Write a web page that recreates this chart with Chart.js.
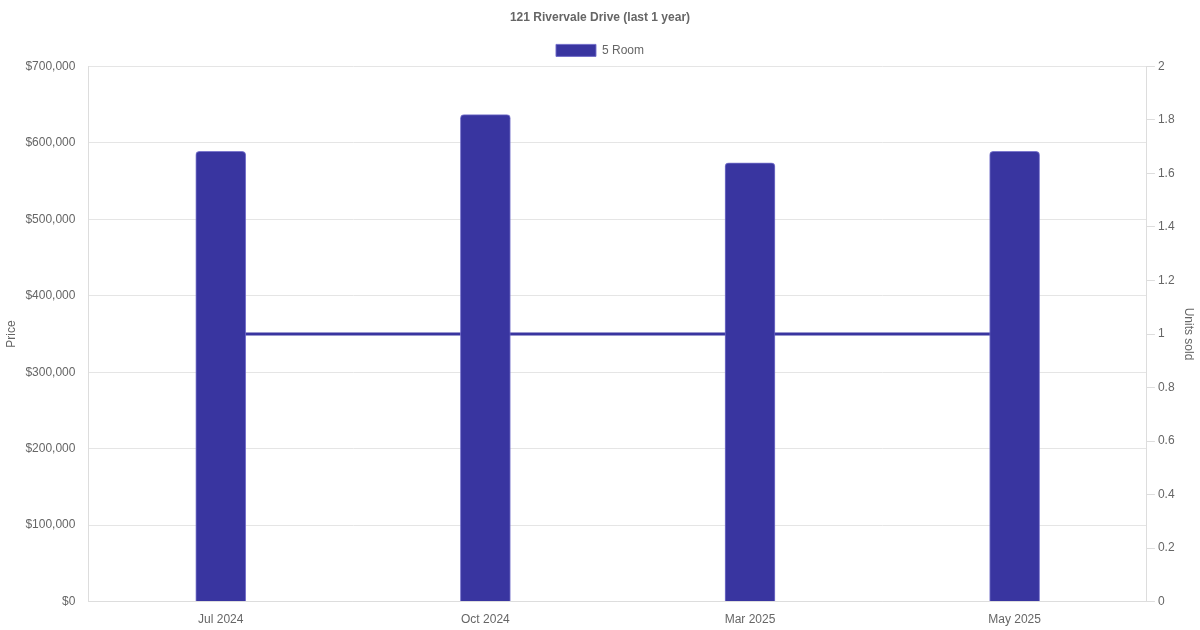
<!DOCTYPE html>
<html>
<head>
<meta charset="utf-8">
<script src="https://cdn.jsdelivr.net/npm/chart.js@4"></script>
<style>
  body { margin: 0; background: #fff; }
  #wrap { position: relative; width: 1200px; height: 630px; }
</style>
</head>
<body>
<div id="wrap"><canvas id="chartPrice"></canvas></div>
<script>
// data
const months = ['Jul 2024', 'Oct 2024', 'Mar 2025', 'May 2025'];
const prices = [589000, 637000, 574000, 589000];
const unitsSold = [1, 1, 1, 1];

const barColor = 'rgb(57, 53, 160)';

Chart.defaults.font.family = "'Liberation Sans', Arial, Helvetica, sans-serif";
Chart.defaults.font.size = 12;
Chart.defaults.color = '#666';

const ctx_price = document.getElementById('chartPrice');

new Chart(ctx_price, {
  type: 'bar',
  data: {
    labels: months,
    datasets: [{
      label: '5 Room',
      data: prices,
      yAxisID: 'y',
      backgroundColor: barColor,
      borderColor: 'rgba(110, 105, 200, 0.9)',
      borderWidth: 1,
      borderRadius: 4,
      borderSkipped: 'bottom',
      barThickness: 50,
      order: 1
    },
    {
      type: 'line',
      label: 'Units sold',
      data: unitsSold,
      yAxisID: 'y1',
      borderColor: barColor,
      backgroundColor: barColor,
      borderWidth: 3,
      pointRadius: 0,
      fill: false,
      order: 2
    }]
  },
  options: {
    responsive: true,
    maintainAspectRatio: false,
    animation: false,
    scales: {
      x: {
        grid: {
          display: false
        },
        border: {
          color: '#ddd'
        }
      },
      y: {
        position: 'left',
        min: 0,
        max: 700000,
        ticks: {
          stepSize: 100000,
          callback: (v) => '$' + v.toLocaleString('en-US')
        },
        grid: {
          color: '#e5e5e5',
          tickLength: 10,
          tickColor: 'rgba(0, 0, 0, 0)'
        },
        border: {
          color: '#ddd'
        },
        title: {
          display: true,
          text: 'Price'
        }
      },
      y1: {
        position: 'right',
        min: 0,
        max: 2,
        ticks: {
          stepSize: 0.2,
          callback: (v) => String(Math.round(v * 10) / 10)
        },
        grid: {
          drawOnChartArea: false,
          color: '#ddd'
        },
        border: {
          color: '#ddd'
        },
        title: {
          display: true,
          text: 'Units sold'
        }
      }
    },
    plugins: {
      title: {
        display: true,
        text: '121 Rivervale Drive (last 1 year)',
        font: { weight: 'bold', size: 12 },
        color: '#666'
      },
      legend: {
        display: true,
        position: 'top',
        labels: {
          boxWidth: 40,
          filter: (item) => item.datasetIndex === 0
        }
      },
      tooltip: { enabled: false }
    }
  }
});
</script>
</body>
</html>
